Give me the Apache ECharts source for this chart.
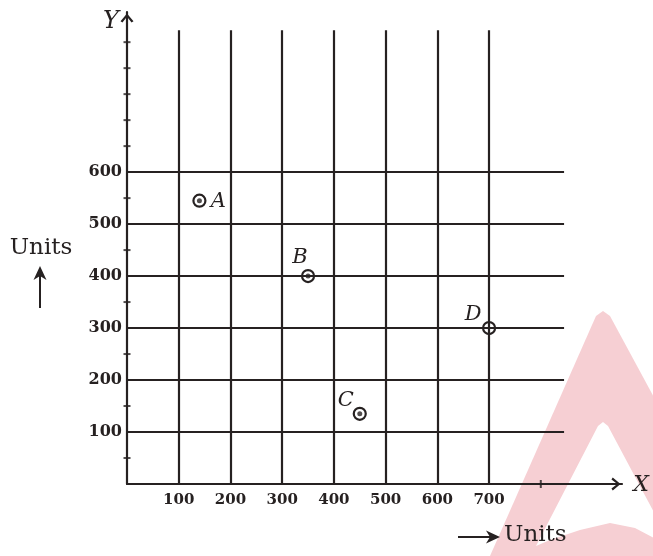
<!DOCTYPE html>
<html>
<head>
<meta charset="utf-8">
<script src="https://cdn.jsdelivr.net/npm/echarts@6/dist/echarts.min.js"></script>
<style>html,body{margin:0;padding:0;background:#fff;}#chart{width:653px;height:556px;}</style>
</head>
<body>
<div id="chart"></div>
<script>
// ---- data ----
const xGridValues = [100, 200, 300, 400, 500, 600, 700];
const yGridValues = [100, 200, 300, 400, 500, 600];
const xTickLabels = [100, 200, 300, 400, 500, 600, 700];
const yTickLabels = [100, 200, 300, 400, 500, 600];
const yMinorTicks = [50, 150, 250, 350, 450, 550, 650, 700, 750, 800, 850];
const xMinorTicks = [800];
const verticalLineTop = 873;
const horizontalLineEnd = 845;
const pointNames = ['A', 'B', 'C', 'D'];
const pointX = [140, 350, 450, 700];
const pointY = [545, 400, 135, 300];
const pointKinds = ['dot', 'dot', 'dot', 'plus'];
const xMax = 957;
const yMax = 908;

// ---- styles ----
const ink = '#262121';
const labelOffsets = { A: [19, 1], B: [-8, -19], C: [-14, -13], D: [-16, -14] };
const serif = '"DejaVu Serif", serif';
const chevron = 'path://M10,0 L20,12 L17,14 L10,5 L3,14 L0,12 Z';

const chart = echarts.init(document.getElementById('chart'), null, { renderer: 'canvas' });

const gridLines = [];
xGridValues.forEach(v => gridLines.push([{ coord: [v, 0] }, { coord: [v, verticalLineTop] }]));
yGridValues.forEach(v => gridLines.push([{ coord: [0, v] }, { coord: [horizontalLineEnd, v] }]));

const pts = pointNames.map((n, i) => ({
  name: n,
  value: [pointX[i], pointY[i]],
  label: { offset: labelOffsets[n] }
}));

const option = {
  backgroundColor: '#ffffff',
  animation: false,
  grid: { left: 127, right: 31, top: 12, bottom: 72, containLabel: false },
  xAxis: {
    type: 'value', min: 0, max: xMax, interval: 100,
    axisLine: { show: true, symbol: ['none', chevron], symbolSize: [13, 13], symbolOffset: [0, -6],
      lineStyle: { color: ink, width: 2.2 } },
    axisTick: { show: false },
    splitLine: { show: false },
    axisLabel: {
      margin: 9, color: ink, fontFamily: serif, fontWeight: 'bold', fontSize: 15,
      formatter: v => (xTickLabels.indexOf(v) >= 0 ? String(v) : '')
    }
  },
  yAxis: {
    type: 'value', min: 0, max: yMax, interval: 100,
    axisLine: { show: true, symbol: ['none', chevron], symbolSize: [13, 13], symbolOffset: [0, -6],
      lineStyle: { color: ink, width: 2.2 } },
    axisTick: { show: false },
    splitLine: { show: false },
    axisLabel: {
      margin: 5, color: ink, fontFamily: serif, fontWeight: 'bold', fontSize: 16,
      formatter: v => (yTickLabels.indexOf(v) >= 0 ? String(v) : '')
    }
  },
  graphic: [
    // watermark
    { type: 'polygon', z: -10, silent: true,
      shape: { points: [[490, 556], [596, 316], [603, 311], [610, 316], [740, 556]] },
      style: { fill: '#f6cfd3' } },
    { type: 'polygon', z: -9, silent: true,
      shape: { points: [[536, 546], [598, 426], [603, 422], [608, 426], [658, 520], [658, 540], [635, 528], [610, 523], [580, 530], [550, 540]] },
      style: { fill: '#ffffff' } },
    // axis names & unit captions
    { type: 'text', z: 100, x: 111, y: 22,
      style: { text: 'Y', font: 'italic 24px ' + serif, fill: ink, align: 'center', verticalAlign: 'middle' } },
    { type: 'text', z: 100, x: 641, y: 485,
      style: { text: 'X', font: 'italic 22px ' + serif, fill: ink, align: 'center', verticalAlign: 'middle' } },
    { type: 'text', z: 100, x: 41, y: 248,
      style: { text: 'Units', font: '23px ' + serif, fill: ink, align: 'center', verticalAlign: 'middle' } },
    { type: 'line', z: 100, shape: { x1: 40, y1: 308, x2: 40, y2: 272 }, style: { stroke: ink, lineWidth: 2 } },
    { type: 'polygon', z: 100, shape: { points: [[40, 266], [46.5, 280], [40, 276], [33.5, 280]] }, style: { fill: ink } },
    { type: 'line', z: 100, shape: { x1: 458, y1: 537, x2: 494, y2: 537 }, style: { stroke: ink, lineWidth: 2 } },
    { type: 'polygon', z: 100, shape: { points: [[500, 537], [486, 530.5], [490, 537], [486, 543.5]] }, style: { fill: ink } },
    { type: 'text', z: 100, x: 504, y: 535,
      style: { text: 'Units', font: '23px ' + serif, fill: ink, align: 'left', verticalAlign: 'middle' } }
  ],
  series: [
    { type: 'scatter', z: 1, data: [], silent: true,
      markLine: { silent: true, symbol: ['none', 'none'], animation: false, label: { show: false },
        lineStyle: { color: ink, width: 2.2, type: 'solid' }, emphasis: { disabled: true },
        data: gridLines } },
    { type: 'scatter', z: 2, silent: true, symbol: 'rect', symbolSize: [7, 2],
      itemStyle: { color: ink }, data: yMinorTicks.map(v => [0, v]) },
    { type: 'scatter', z: 2, silent: true, symbol: 'rect', symbolSize: [2, 8],
      itemStyle: { color: ink }, data: xMinorTicks.map(v => [v, 0]) },
    { type: 'scatter', z: 3, silent: true, symbol: 'circle', symbolSize: 12,
      itemStyle: { color: '#ffffff', borderColor: ink, borderWidth: 2.2, opacity: 1 },
      label: { show: true, position: 'inside', formatter: '{b}', color: ink,
        fontFamily: serif, fontStyle: 'italic', fontSize: 21 },
      data: pts },
    { type: 'scatter', z: 4, silent: true, symbol: 'circle', symbolSize: 5,
      itemStyle: { color: ink },
      data: pointNames.map((n, i) => pointKinds[i] === 'dot' ? [pointX[i], pointY[i]] : null).filter(d => d) },
    { type: 'scatter', z: 4, silent: true, symbol: 'path://M9,0h2v20h-2zM0,9h20v2h-20z', symbolSize: 13,
      itemStyle: { color: ink },
      data: pointNames.map((n, i) => pointKinds[i] === 'plus' ? [pointX[i], pointY[i]] : null).filter(d => d) }
  ]
};
chart.setOption(option);
</script>
</body>
</html>
